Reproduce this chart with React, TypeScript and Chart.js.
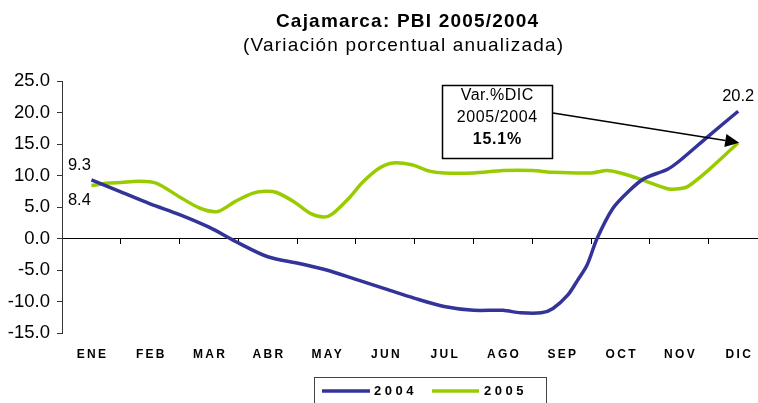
import React, { useEffect, useRef } from 'react';
import { Chart, registerables } from 'chart.js';

Chart.register(...registerables);

// ---- data ----
const months = ['ENE', 'FEB', 'MAR', 'ABR', 'MAY', 'JUN', 'JUL', 'AGO', 'SEP', 'OCT', 'NOV', 'DIC'];
const yTicks = [-15, -10, -5, 0, 5, 10, 15, 20, 25];
const seriesNames = ['2004', '2005'];

// positions are month indexes (ENE = 0 ... DIC = 11)
const pos2004 = [0, 0.5, 1.0, 1.5, 2.0, 2.5, 3.0, 3.55, 4.0, 4.5, 5.0, 5.5, 6.0, 6.5, 7.0, 7.3, 7.65, 7.85, 8.1, 8.27, 8.43, 8.6, 8.87, 9.16, 9.4, 9.8, 10.0, 10.5, 11.0];
const val2004 = [9.3, 7.4, 5.5, 3.8, 1.8, -0.7, -2.9, -4.0, -5.0, -6.5, -8.0, -9.5, -10.8, -11.4, -11.4, -11.8, -11.8, -11.1, -9.0, -6.6, -4.2, 0.0, 4.8, 7.7, 9.5, 11.0, 12.3, 16.3, 20.2];

const pos2005 = [0, 0.3, 0.5, 0.8, 1.1, 1.5, 1.85, 2.15, 2.45, 2.75, 2.97, 3.15, 3.45, 3.72, 3.95, 4.1, 4.4, 4.62, 4.9, 5.13, 5.45, 5.75, 6.0, 6.5, 7.0, 7.5, 7.85, 8.5, 8.77, 9.0, 9.4, 9.8, 10.0, 10.15, 10.5, 11.0];
const val2005 = [8.4, 8.8, 8.9, 9.1, 8.8, 6.6, 4.8, 4.3, 5.9, 7.2, 7.5, 7.3, 5.8, 4.0, 3.4, 3.9, 6.6, 9.0, 11.2, 12.0, 11.7, 10.7, 10.4, 10.4, 10.8, 10.8, 10.5, 10.4, 10.8, 10.4, 9.2, 7.9, 7.9, 8.3, 10.9, 15.2];

const labels2004 = ['9.3', '20.2'];
const labels2005 = ['8.4'];

const titleText = 'Cajamarca: PBI 2005/2004';
const subtitleText = '(Variación porcentual anualizada)';
const noteLines = ['Var.%DIC', '2005/2004', '15.1%'];

const FONT = '"Liberation Sans", Arial, Helvetica, sans-serif';
const BLUE = '#333399';
const GREEN = '#99CC00';

const X_MIN = -0.5;
const X_MAX = 11.337;

function spacedText(ctx: CanvasRenderingContext2D, text: string, x: number, y: number, spacing: number) {
  (ctx as any).letterSpacing = `${spacing}px`;
  // compensate the trailing spacing for centred text
  const dx = ctx.textAlign === 'center' ? spacing / 2 : 0;
  ctx.fillText(text, x + dx, y);
  (ctx as any).letterSpacing = '0px';
}

const overlayPlugin = {
  id: 'overlay',
  afterDraw(chart: any) {
    const ctx = chart.ctx as CanvasRenderingContext2D;
    const xs = chart.scales.x;
    const ys = chart.scales.y;
    ctx.save();
    ctx.fillStyle = '#000';
    ctx.textAlign = 'center';
    ctx.textBaseline = 'middle';

    // title
    ctx.font = `bold 19px ${FONT}`;
    spacedText(ctx, titleText, 407, 22, 1.2);
    ctx.font = `19px ${FONT}`;
    spacedText(ctx, subtitleText, 403, 46, 1.2);

    // month labels
    ctx.font = `bold 12px ${FONT}`;
    months.forEach((m, i) => {
      spacedText(ctx, m, xs.getPixelForValue(i), 355, 2.3);
    });

    // data labels
    ctx.font = `16.5px ${FONT}`;
    const b0x = xs.getPixelForValue(pos2004[0]);
    const b0y = ys.getPixelForValue(val2004[0]);
    ctx.fillText(labels2004[0], b0x - 12, b0y - 14);
    const g0x = xs.getPixelForValue(pos2005[0]);
    const g0y = ys.getPixelForValue(val2005[0]);
    ctx.fillText(labels2005[0], g0x - 12, g0y + 15);
    const bnx = xs.getPixelForValue(pos2004[pos2004.length - 1]);
    const bny = ys.getPixelForValue(val2004[val2004.length - 1]);
    ctx.fillText(labels2004[1], bnx, bny - 15);

    // annotation box
    const bx = 442, by = 85, bw = 110, bh = 73;
    ctx.fillStyle = '#fff';
    ctx.fillRect(bx, by, bw, bh);
    ctx.strokeStyle = '#000';
    ctx.lineWidth = 1.5;
    ctx.strokeRect(bx + 0.5, by + 0.5, bw, bh);
    ctx.fillStyle = '#000';
    ctx.font = `16px ${FONT}`;
    spacedText(ctx, noteLines[0], bx + 55, 96, 0.5);
    spacedText(ctx, noteLines[1], bx + 55, 118, 0.6);
    ctx.font = `bold 16px ${FONT}`;
    spacedText(ctx, noteLines[2], bx + 55, 140, 0.8);

    // arrow to last 2005 point
    const gx = xs.getPixelForValue(pos2005[pos2005.length - 1]) + 1;
    const gy = ys.getPixelForValue(val2005[val2005.length - 1]);
    const sx = bx + bw + 1, sy = 113;
    const ang = Math.atan2(gy - sy, gx - sx);
    const headLen = 14, headW = 6.5;
    const baseX = gx - headLen * Math.cos(ang);
    const baseY = gy - headLen * Math.sin(ang);
    ctx.lineWidth = 1.5;
    ctx.beginPath();
    ctx.moveTo(sx, sy);
    ctx.lineTo(baseX, baseY);
    ctx.stroke();
    ctx.beginPath();
    ctx.moveTo(gx, gy);
    ctx.lineTo(baseX + headW * Math.sin(ang), baseY - headW * Math.cos(ang));
    ctx.lineTo(baseX - headW * Math.sin(ang), baseY + headW * Math.cos(ang));
    ctx.closePath();
    ctx.fill();

    // legend
    const lx = 314, ly = 377, lw = 232, lh = 40;
    ctx.strokeStyle = '#444';
    ctx.lineWidth = 1;
    ctx.strokeRect(lx + 0.5, ly + 0.5, lw, lh);
    const legendY = 391;
    ctx.lineWidth = 3.5;
    ctx.strokeStyle = BLUE;
    ctx.beginPath();
    ctx.moveTo(322, legendY);
    ctx.lineTo(370, legendY);
    ctx.stroke();
    ctx.strokeStyle = GREEN;
    ctx.beginPath();
    ctx.moveTo(432, legendY);
    ctx.lineTo(479, legendY);
    ctx.stroke();
    ctx.font = `bold 13px ${FONT}`;
    ctx.textAlign = 'left';
    spacedText(ctx, seriesNames[0], 374, legendY, 3.5);
    spacedText(ctx, seriesNames[1], 484, legendY, 3.5);
    ctx.restore();
  },
};

export default function App() {
  const canvasRef = useRef<HTMLCanvasElement | null>(null);

  useEffect(() => {
    if (!canvasRef.current) return;
    const chart = new Chart(canvasRef.current, {
      type: 'line',
      data: {
        datasets: [
          {
            label: seriesNames[0],
            data: pos2004.map((x, i) => ({ x, y: val2004[i] })),
            borderColor: BLUE,
            backgroundColor: BLUE,
            borderWidth: 3.5,
            pointRadius: 0,
            tension: 0.3,
          },
          {
            label: seriesNames[1],
            data: pos2005.map((x, i) => ({ x, y: val2005[i] })),
            borderColor: GREEN,
            backgroundColor: GREEN,
            borderWidth: 3.5,
            pointRadius: 0,
            tension: 0.3,
          },
        ],
      },
      options: {
        animation: false,
        responsive: false,
        devicePixelRatio: 1,
        layout: { padding: { top: 81, bottom: 70, left: 0, right: 0 } },
        plugins: {
          legend: { display: false },
          title: { display: false },
          tooltip: { enabled: false },
        },
        scales: {
          x: {
            type: 'linear',
            display: false,
            min: X_MIN,
            max: X_MAX,
          },
          x2: {
            type: 'linear',
            axis: 'x',
            position: { y: 0 },
            min: X_MIN,
            max: X_MAX,
            afterBuildTicks: (s: any) => {
              const t: any[] = [];
              for (let i = 0; i < months.length; i++) t.push({ value: i - 0.5 });
              s.ticks = t;
            },
            ticks: { display: false },
            grid: {
              drawOnChartArea: false,
              drawTicks: true,
              tickLength: 5,
              color: '#000',
              lineWidth: 1,
            },
            border: { display: true, color: '#000', width: 1 },
          },
          y: {
            type: 'linear',
            position: 'left',
            min: -15,
            max: 25,
            afterBuildTicks: (s: any) => {
              s.ticks = yTicks.map((v) => ({ value: v }));
            },
            afterFit: (s: any) => {
              s.width = 62;
            },
            ticks: {
              callback: (v: any) => Number(v).toFixed(1),
              font: { size: 18.5, family: FONT },
              color: '#000',
              padding: 7,
            },
            grid: {
              drawOnChartArea: false,
              drawTicks: true,
              tickLength: 5,
              color: '#333',
            },
            border: { display: true, color: '#333', width: 1 },
          },
        } as any,
      },
      plugins: [overlayPlugin],
    } as any);
    return () => chart.destroy();
  }, []);

  return (
    <div style={{ position: 'fixed', left: 0, top: 0, width: 758, height: 403, background: '#fff' }}>
      <canvas ref={canvasRef} width={758} height={403} style={{ display: 'block', width: 758, height: 403 }} />
    </div>
  );
}
